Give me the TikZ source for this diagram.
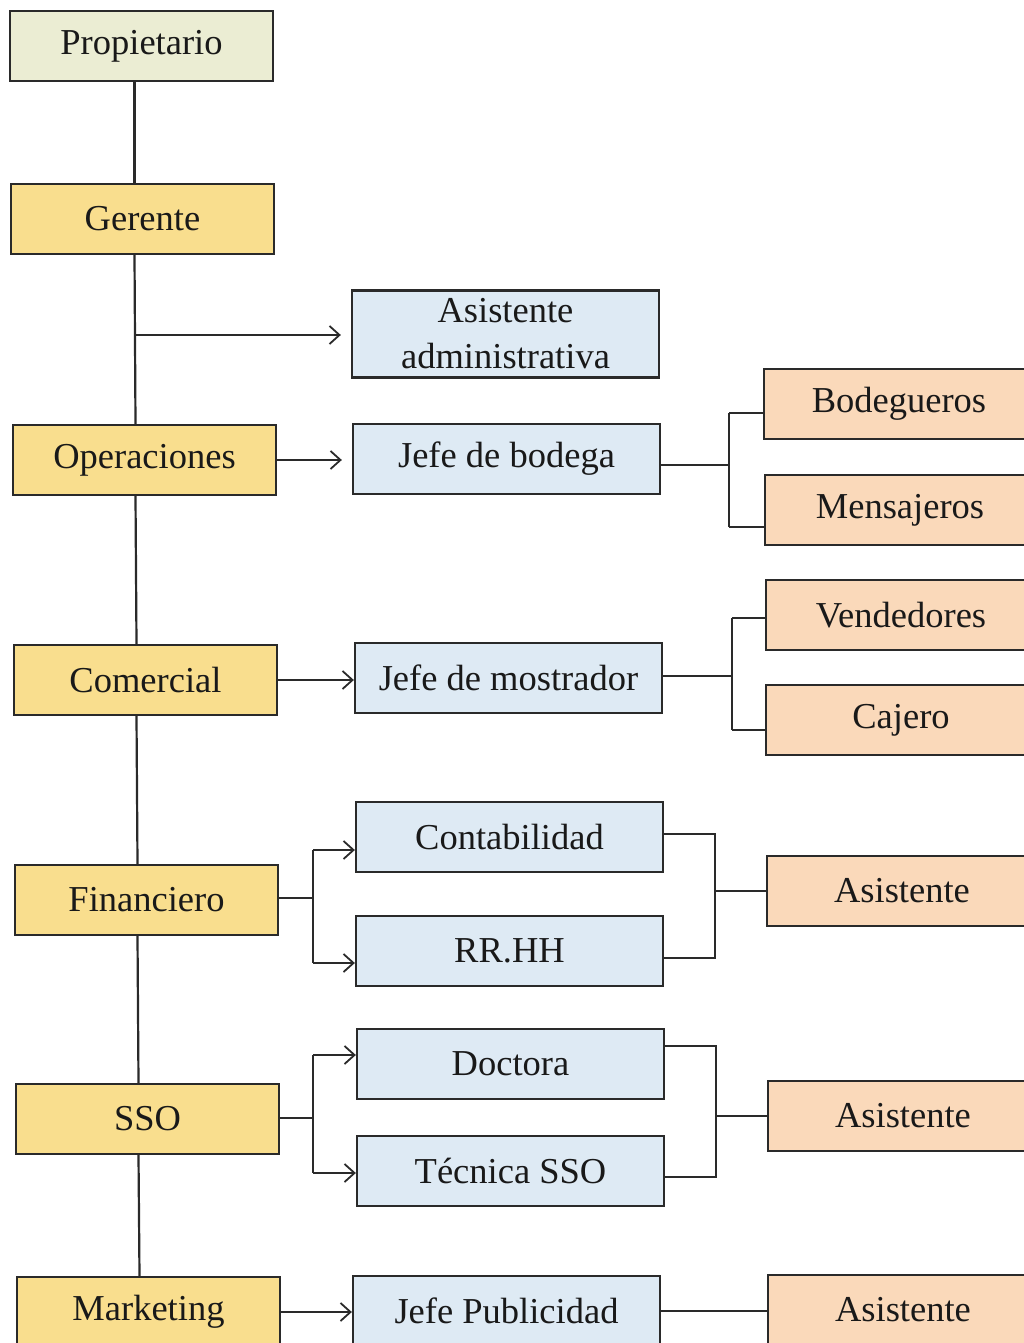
\documentclass[tikz,border=0pt]{standalone}
\usepackage{fontspec}
\setmainfont{Liberation Serif}
\usetikzlibrary{arrows.meta}
\definecolor{cprop}{HTML}{EBEDD3}
\definecolor{cgold}{HTML}{F9DE8E}
\definecolor{cblue}{HTML}{DEEAF4}
\definecolor{corange}{HTML}{FAD9BA}
\definecolor{cline}{HTML}{2A2A2A}
\begin{document}
\begin{tikzpicture}[x=1pt,y=-1pt,
  box/.style={draw=cline,line width=2.3pt,inner sep=0pt,minimum height=70pt,
    font=\fontsize{36.5}{46}\selectfont,text=black!90,align=center},
  leftbox/.style={box,fill=cgold,minimum width=263pt},
  midbox/.style={box,fill=cblue,minimum width=307pt},
  rightbox/.style={box,fill=corange,minimum width=270pt},
  conn/.style={draw=cline,line width=2.2pt},
  thinconn/.style={draw=cline,line width=1.1pt},
  arr/.style={-{Straight Barb[length=10pt,width=18pt,line width=1.8pt]}}
]
\useasboundingbox (0,0) rectangle (1024,1343);
\fill[white] (0,0) rectangle (1024,1343);

% left column
\node[leftbox,fill=cprop] (prop) at (141.5,46) {Propietario};
\node[leftbox] (ger) at (142.5,219) {Gerente};
\node[leftbox] (ope) at (144.5,460) {Operaciones};
\node[leftbox] (com) at (145.5,680) {Comercial};
\node[leftbox] (fin) at (146.5,900) {Financiero};
\node[leftbox] (sso) at (147.5,1119) {SSO};
\node[leftbox] (mkt) at (148.5,1312) {Marketing};

% middle column
\node[midbox,minimum height=87pt] (adm) at (505.5,334) {Asistente\\administrativa};
\node[midbox] (bod) at (506.5,459) {Jefe de bodega};
\node[midbox] (mos) at (508.5,678) {Jefe de mostrador};
\node[midbox] (con) at (509.5,837) {Contabilidad};
\node[midbox] (rrhh) at (509.5,951) {RR.HH};
\node[midbox] (doc) at (510.5,1064) {Doctora};
\node[midbox] (tec) at (510.5,1171) {Técnica SSO};
\node[midbox] (pub) at (506.5,1311) {Jefe Publicidad};

% right column
\node[rightbox] (bg) at (899,404) {Bodegueros};
\node[rightbox] (mens) at (900,510) {Mensajeros};
\node[rightbox] (ven) at (901,615) {Vendedores};
\node[rightbox] (caj) at (901,720) {Cajero};
\node[rightbox] (asf) at (902,891) {Asistente};
\node[rightbox] (ass) at (903,1116) {Asistente};
\node[rightbox] (asm) at (903,1310) {Asistente};

% trunk
\draw[conn] ([xshift=-7pt]prop.south) -- ([xshift=-8pt]ger.north);
\draw[conn] ([xshift=-8pt]ger.south) -- ([xshift=-9pt]ope.north);
\draw[conn] ([xshift=-9pt]ope.south) -- ([xshift=-9pt]com.north);
\draw[conn] ([xshift=-9pt]com.south) -- ([xshift=-9pt]fin.north);
\draw[conn] ([xshift=-9pt]fin.south) -- ([xshift=-9pt]sso.north);
\draw[conn] ([xshift=-9pt]sso.south) -- ([xshift=-9pt]mkt.north);

% gerente -> asistente administrativa
\coordinate (gj) at (135,335);
\draw[conn,arr,shorten >=10pt] (gj) -- (adm.west |- gj);

% operaciones -> jefe de bodega
\draw[conn,arr,shorten >=10pt] (ope.east) -- (bod.west |- ope.east);

% comercial -> jefe de mostrador
\draw[thinconn,arr] (com.east) -- (mos.west |- com.east);

% jefe de bodega -> bodegueros, mensajeros
\coordinate (bj) at (729,465);
\draw[conn] (bod.east |- bj) -- (bj);
\draw[conn] ([yshift=-9pt]bg.west -| bj) -- ([yshift=-17pt]mens.west -| bj);
\draw[conn] ([yshift=-9pt]bg.west -| bj) -- ([yshift=-9pt]bg.west);
\draw[conn] ([yshift=-17pt]mens.west -| bj) -- ([yshift=-17pt]mens.west);

% jefe de mostrador -> vendedores, cajero
\coordinate (mj) at (732,676);
\draw[thinconn] (mos.east |- mj) -- (mj);
\draw[conn] ([yshift=-3pt]ven.west -| mj) -- ([yshift=-10pt]caj.west -| mj);
\draw[thinconn] ([yshift=-3pt]ven.west -| mj) -- ([yshift=-3pt]ven.west);
\draw[conn] ([yshift=-10pt]caj.west -| mj) -- ([yshift=-10pt]caj.west);

% financiero -> contabilidad, rr.hh
\coordinate (fj) at (313,898);
\draw[conn] (fin.east |- fj) -- (fj);
\draw[conn,arr] ([yshift=-13pt]con.west -| fj) -- ([yshift=-13pt]con.west);
\draw[conn,arr] ([yshift=-12pt]rrhh.west -| fj) -- ([yshift=-12pt]rrhh.west);
\draw[conn] ([yshift=-13pt]con.west -| fj) -- ([yshift=-12pt]rrhh.west -| fj);

% contabilidad, rr.hh -> asistente
\coordinate (fk) at (715,891);
\draw[conn] ([yshift=3pt]con.east) -- ([yshift=3pt]con.east -| fk) -- ([yshift=-7pt]rrhh.east -| fk) -- ([yshift=-7pt]rrhh.east);
\draw[conn] (fk) -- (asf.west |- fk);

% sso -> doctora, tecnica
\coordinate (sj) at (313,1118);
\draw[conn] (sso.east |- sj) -- (sj);
\draw[conn,arr] ([yshift=9pt]doc.west -| sj) -- ([yshift=9pt]doc.west);
\draw[conn,arr] ([yshift=-2pt]tec.west -| sj) -- ([yshift=-2pt]tec.west);
\draw[conn] ([yshift=9pt]doc.west -| sj) -- ([yshift=-2pt]tec.west -| sj);

% doctora, tecnica -> asistente
\coordinate (sk) at (716,1116);
\draw[conn] ([yshift=18pt]doc.east) -- ([yshift=18pt]doc.east -| sk) -- ([yshift=-6pt]tec.east -| sk) -- ([yshift=-6pt]tec.east);
\draw[conn] (sk) -- (ass.west |- sk);

% marketing -> jefe publicidad -> asistente
\draw[conn,arr] (mkt.east) -- (pub.west |- mkt.east);
\draw[conn] (pub.east) -- (asm.west |- pub.east);
\end{tikzpicture}
\end{document}
